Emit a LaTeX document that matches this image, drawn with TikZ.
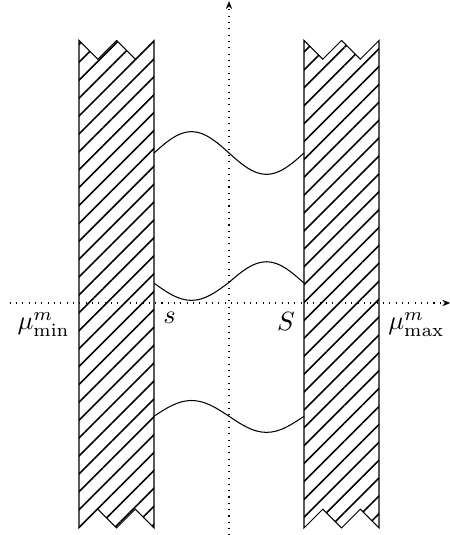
\documentclass[tikz,border=0pt]{standalone}
\usepackage{amsmath,amssymb}
\usepackage{tikz}
\usetikzlibrary{arrows.meta,patterns.meta}

\tikzset{
  pared/.style={draw,pattern={Lines[angle=45,distance=4.8pt,line width=0.6pt]}},
  eje/.style={dotted,->}
}

\begin{document}
\begin{tikzpicture}[scale=0.5,>={Stealth[length=3pt,width=2.4pt]}]
  \useasboundingbox (-6.107,-6.187) rectangle (5.893,8.08);
  \coordinate (O) at (0,0);
  % ejes
  \draw[eje] (-5.85,0)--(5.9,0);
  \draw[eje] (0,-6.2)--(0,8.05);
  % paredes
  \draw[pared] (-4,-6)--(-4,7)--(-3.5,6.5)--(-3,7)--(-2.5,6.5)--(-2,7)
    --(-2,-6)--(-2.5,-5.5)--(-3,-6)--(-3.5,-5.5)--cycle;
  \draw[pared] (2,-6)--(2,7)--(2.5,6.5)--(3,7)--(3.5,6.5)--(4,7)
    --(4,-6)--(3.5,-5.5)--(3,-6)--(2.5,-5.5)--cycle;
  % curvas
  \draw (-2,4) sin (-1,4.57) cos (0,4) sin (1,3.43) cos (2,4);
  \draw (-2,0.53) sin (-1,0.07) cos (0,0.55) sin (1,1.1) cos (2,0.53);
  \draw (-2,-3.02) sin (-1,-2.6) cos (0,-3.02) sin (1,-3.45) cos (2,-3.02);
  % etiquetas
  \node[below left] (mumin) at (-4,0) {$\mu^m_{\min}$};
  \node[below right] (mumax) at (4,0) {$\mu^m_{\max}$};
  \node[below right] (s) at (-2,0) {$s$};
  \node[below left] (S) at (2,0) {$S$};
\end{tikzpicture}
\end{document}
